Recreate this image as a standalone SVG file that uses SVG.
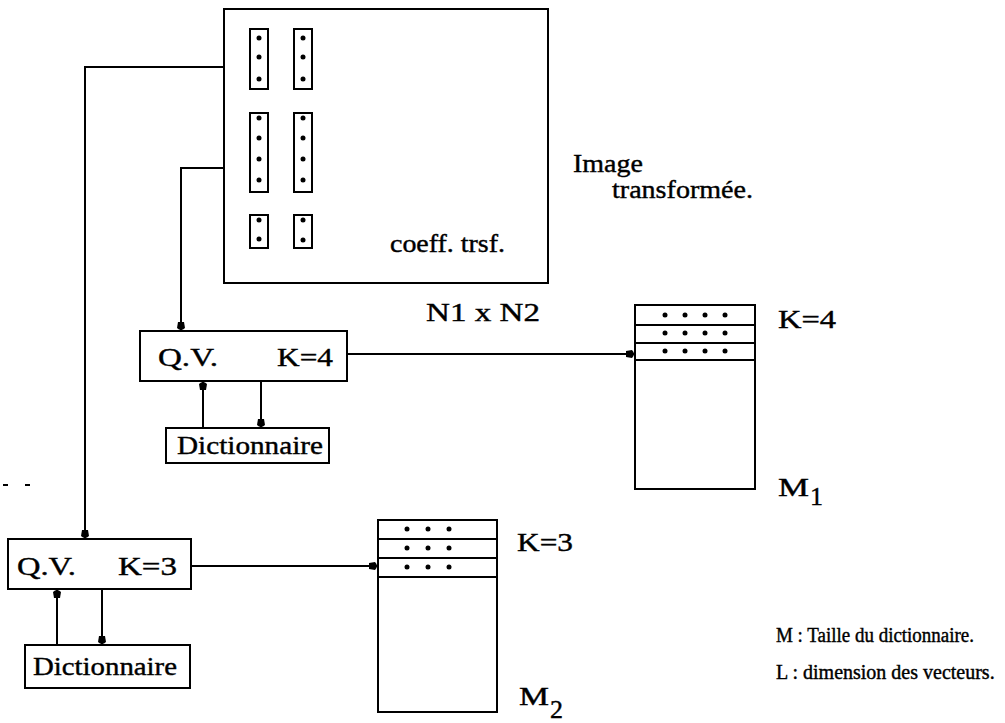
<svg xmlns="http://www.w3.org/2000/svg" width="1005" height="723" viewBox="0 0 1005 723">
<style>
.box{fill:none;stroke:#000;stroke-width:2}
.ln{fill:none;stroke:#000;stroke-width:2}
.t{font-family:"Liberation Serif","Times New Roman",serif;font-size:26px;fill:#000;stroke:#000;stroke-width:0.4}
.s{font-size:20px}
.dot{fill:#000}
</style>
<defs>
<marker id="blob" viewBox="0 0 10 10" refX="9" refY="5" markerWidth="5" markerHeight="5" orient="auto" markerUnits="strokeWidth">
<path d="M0,2 L6,1 Q10,5 6,9 L0,8 Z" fill="#000"/>
</marker>
</defs>
<rect width="1005" height="723" fill="#fff"/>
<g id="image">
<rect class="box" x="224" y="9" width="324" height="274"/>
<rect class="box" x="250" y="29" width="18" height="60"/>
<rect class="box" x="294" y="29" width="18" height="60"/>
<rect class="box" x="250" y="113" width="18" height="79"/>
<rect class="box" x="294" y="113" width="18" height="79"/>
<rect class="box" x="250" y="215" width="18" height="33"/>
<rect class="box" x="294" y="215" width="18" height="33"/>
<g class="dot">
<circle cx="259" cy="38" r="2.5"/><circle cx="259" cy="57" r="2.5"/><circle cx="259" cy="79" r="2.5"/>
<circle cx="303" cy="38" r="2.5"/><circle cx="303" cy="57" r="2.5"/><circle cx="303" cy="79" r="2.5"/>
<circle cx="259" cy="118" r="2.5"/><circle cx="259" cy="138" r="2.5"/><circle cx="259" cy="159" r="2.5"/><circle cx="259" cy="180" r="2.5"/>
<circle cx="303" cy="118" r="2.5"/><circle cx="303" cy="138" r="2.5"/><circle cx="303" cy="159" r="2.5"/><circle cx="303" cy="180" r="2.5"/>
<circle cx="259" cy="220" r="2.5"/><circle cx="259" cy="239" r="2.5"/>
<circle cx="303" cy="220" r="2.5"/><circle cx="303" cy="240" r="2.5"/>
</g>
<text class="t" x="390" y="252" textLength="115" lengthAdjust="spacingAndGlyphs">coeff. trsf.</text>
</g>
<g id="labels">
<text class="t" x="573" y="172" textLength="70" lengthAdjust="spacingAndGlyphs">Image</text>
<text class="t" x="612" y="198" textLength="141" lengthAdjust="spacingAndGlyphs">transformée.</text>
<text class="t" x="426" y="321" textLength="114" lengthAdjust="spacingAndGlyphs">N1 x N2</text>
<text class="t s" x="776" y="642" textLength="198" lengthAdjust="spacingAndGlyphs">M : Taille du dictionnaire.</text>
<text class="t s" x="776" y="679">L : dimension des vecteurs.</text>
<line class="ln" x1="3" y1="485" x2="8" y2="485"/>
<line class="ln" x1="25" y1="485" x2="30" y2="485"/>
</g>
<g id="qv4">
<rect class="box" x="140" y="331" width="207" height="50"/>
<text class="t" x="158" y="366" textLength="60" lengthAdjust="spacingAndGlyphs">Q.V.</text>
<text class="t" x="277" y="366" textLength="56" lengthAdjust="spacingAndGlyphs">K=4</text>
</g>
<g id="dict1">
<rect class="box" x="166" y="428" width="163" height="35"/>
<text class="t" x="177" y="454" textLength="146" lengthAdjust="spacingAndGlyphs">Dictionnaire</text>
</g>
<g id="qv3">
<rect class="box" x="8" y="539" width="183" height="50"/>
<text class="t" x="17" y="575" textLength="59" lengthAdjust="spacingAndGlyphs">Q.V.</text>
<text class="t" x="118" y="575" textLength="59" lengthAdjust="spacingAndGlyphs">K=3</text>
</g>
<g id="dict2">
<rect class="box" x="25" y="645" width="165" height="43"/>
<text class="t" x="33" y="675" textLength="144" lengthAdjust="spacingAndGlyphs">Dictionnaire</text>
</g>
<g id="m1">
<rect class="box" x="635" y="305" width="120" height="184"/>
<line class="ln" x1="635" y1="325" x2="755" y2="325"/>
<line class="ln" x1="635" y1="343" x2="755" y2="343"/>
<line class="ln" x1="635" y1="360" x2="755" y2="360"/>
<g class="dot">
<circle cx="665" cy="315" r="2.5"/><circle cx="685" cy="315" r="2.5"/><circle cx="705" cy="315" r="2.5"/><circle cx="725" cy="315" r="2.5"/>
<circle cx="665" cy="333" r="2.5"/><circle cx="685" cy="333" r="2.5"/><circle cx="705" cy="333" r="2.5"/><circle cx="725" cy="333" r="2.5"/>
<circle cx="665" cy="351" r="2.5"/><circle cx="685" cy="351" r="2.5"/><circle cx="705" cy="351" r="2.5"/><circle cx="725" cy="351" r="2.5"/>
</g>
<text class="t" x="778" y="328" textLength="58" lengthAdjust="spacingAndGlyphs">K=4</text>
<text class="t" x="778" y="496" font-size="30" textLength="31" lengthAdjust="spacingAndGlyphs">M</text>
<text class="t" x="810" y="505" font-size="22">1</text>
</g>
<g id="m2">
<rect class="box" x="378" y="520" width="119" height="192"/>
<line class="ln" x1="378" y1="539" x2="497" y2="539"/>
<line class="ln" x1="378" y1="558" x2="497" y2="558"/>
<line class="ln" x1="378" y1="577" x2="497" y2="577"/>
<g class="dot">
<circle cx="407" cy="529" r="2.5"/><circle cx="428" cy="529" r="2.5"/><circle cx="449" cy="529" r="2.5"/>
<circle cx="407" cy="548" r="2.5"/><circle cx="428" cy="548" r="2.5"/><circle cx="449" cy="548" r="2.5"/>
<circle cx="407" cy="567" r="2.5"/><circle cx="428" cy="567" r="2.5"/><circle cx="449" cy="567" r="2.5"/>
</g>
<text class="t" x="517" y="551" textLength="56" lengthAdjust="spacingAndGlyphs">K=3</text>
<text class="t" x="519" y="705" font-size="30" textLength="30" lengthAdjust="spacingAndGlyphs">M</text>
<text class="t" x="550" y="718" font-size="22">2</text>
</g>
<g id="connectors">
<path class="ln" d="M224,67 H85 V539" marker-end="url(#blob)"/>
<path class="ln" d="M224,168 H181 V331" marker-end="url(#blob)"/>
<path class="ln" d="M347,354 H635" marker-end="url(#blob)"/>
<path class="ln" d="M203,428 V381" marker-end="url(#blob)"/>
<path class="ln" d="M261,381 V428" marker-end="url(#blob)"/>
<path class="ln" d="M191,566 H378" marker-end="url(#blob)"/>
<path class="ln" d="M57,645 V589" marker-end="url(#blob)"/>
<path class="ln" d="M102,589 V645" marker-end="url(#blob)"/>
</g>
</svg>
